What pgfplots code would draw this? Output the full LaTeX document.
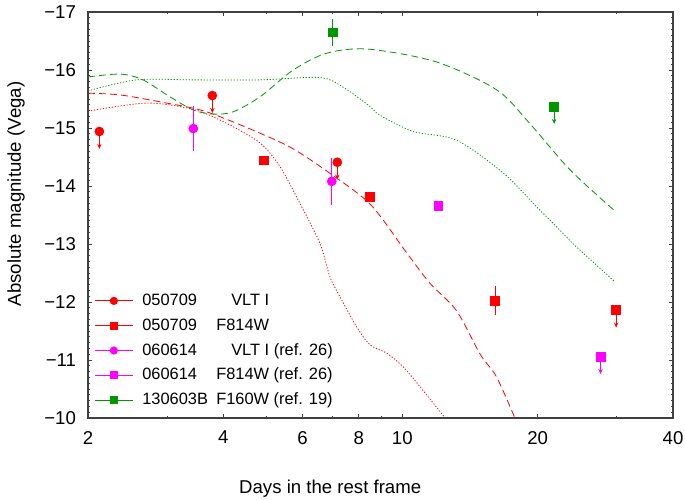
\documentclass[border=0pt]{standalone}
\usepackage{fontspec}
\setmainfont{Liberation Sans}
\usepackage{pgfplots}
\pgfplotsset{compat=1.18}
\usetikzlibrary{arrows.meta}
\definecolor{mred}{RGB}{255,0,0}
\definecolor{mmag}{RGB}{255,0,255}
\definecolor{mgreen}{RGB}{0,150,0}
\newcommand{\legtxt}[2]{\hspace*{3.5pt}\makebox[37pt][l]{#1}#2}

\begin{document}
\begin{tikzpicture}
\begin{axis}[
  scale only axis, width=292.5pt, height=203pt,
  xmode=log, xmin=2, xmax=40,
  ymin=-17, ymax=-10, y dir=reverse,
  xtick={2,4,6,8,10,20,40}, xticklabels={2,4,6,8,10,20,40},
  minor xtick={3,5,7,9,30},
  ytick={-17,-16,-15,-14,-13,-12,-11,-10},
  yticklabels={−17,−16,−15,−14,−13,−12,−11,−10},
  minor y tick num=9,
  tick align=inside,
  major tick length=2.2pt, minor tick length=1.1pt,
  axis line style={line width=0.7pt, black!75},
  every tick/.style={black!75, line width=0.5pt},
  tick label style={font=\fontsize{9.3}{10}\selectfont},
  yticklabel style={xshift=-2.5pt},
  xticklabel style={yshift=-3pt},
  label style={font=\fontsize{9.3}{10}\selectfont},
  xlabel={Days in the rest frame},
  ylabel={Absolute magnitude (Vega)},
  xlabel style={at={(axis description cs:0.414,0)}, anchor=base, yshift=-37.5pt},
  ylabel style={at={(axis description cs:-0.1149,0.552)}, anchor=base},
  error bars/error mark=none,
  unbounded coords=jump,
  legend image code/.code={
    \draw[#1, mark=none] (0pt,0pt) -- (19pt,0pt);
    \draw[#1, only marks] plot coordinates {(9.5pt,0pt)};},
  legend style={at={(axis description cs:0,0)}, anchor=south west, xshift=3pt, yshift=4pt,
    draw=none, fill=none, inner sep=0pt, row sep=2.9pt,
    font=\fontsize{8.2}{9}\selectfont,
    nodes={inner sep=1pt, text height=6pt, text depth=1.5pt}},
  legend cell align=left,
]
% models
\addplot[mred, thin, dash pattern=on 3.5pt off 2pt, smooth, forget plot] coordinates {
  (2.0,-15.60) (2.36,-15.57) (2.99,-15.43) (3.67,-15.28) (4.83,-14.91) (5.72,-14.64)
  (6.9,-14.22) (8.5,-13.68) (10.2,-12.86) (11.5,-12.33) (13.2,-11.85) (14.9,-11.1)
  (16.2,-10.71) (17.8,-10.0)};
\addplot[mred, thin, dash pattern=on 0.6pt off 0.9pt, smooth, forget plot] coordinates {
  (2.0,-15.29) (2.70,-15.43) (3.43,-15.32) (4.07,-15.08) (4.83,-14.74) (5.35,-14.33)
  (5.92,-13.70) (6.56,-13.01) (6.90,-12.44) (7.27,-12.09) (7.92,-11.57) (8.48,-11.26)
  (9.23,-11.12) (10.05,-10.88) (10.95,-10.54) (12.4,-10.02)};
\addplot[mgreen, thin, dash pattern=on 3.5pt off 2pt, smooth, forget plot] coordinates {
  (2.0,-15.88) (2.36,-15.93) (2.65,-15.83) (3.04,-15.54) (3.43,-15.31) (3.80,-15.24)
  (4.21,-15.28) (4.83,-15.54) (5.72,-16.0) (6.79,-16.29) (8.4,-16.36) (11.9,-16.14)
  (16.2,-15.66) (19.2,-15.08) (23.6,-14.28) (29.7,-13.57)};
\addplot[mgreen, thin, dash pattern=on 0.6pt off 0.9pt, smooth, forget plot] coordinates {
  (2.0,-15.64) (2.56,-15.83) (3.43,-15.83) (4.83,-15.83) (6.56,-15.87) (7.40,-15.70)
  (8.48,-15.37) (8.92,-15.22) (10.58,-14.94) (13.2,-14.79) (16.8,-14.22) (19.9,-13.64)
  (22.4,-13.24) (24.4,-12.95) (29.7,-12.35)};
% upper limits (arrows)
\addplot[mred, draw=none, forget plot, error bars/.cd, y dir=plus, y explicit,
  error bar style={draw=mred, solid, line width=0.5pt, -{Stealth[length=2.5pt,width=2.2pt]}}] coordinates {
  (2.12,-14.94) +- (0,0.3) (3.78,-15.56) +- (0,0.3) (7.17,-14.41) +- (0,0.3) (29.9,-11.86) +- (0,0.3)};
\addplot[mmag, draw=none, forget plot, error bars/.cd, y dir=plus, y explicit,
  error bar style={draw=mmag, solid, line width=0.5pt, -{Stealth[length=2.5pt,width=2.2pt]}}] coordinates {(27.6,-11.06) +- (0,0.3)};
\addplot[mgreen, draw=none, forget plot, error bars/.cd, y dir=plus, y explicit,
  error bar style={draw=mgreen, solid, line width=0.5pt, -{Stealth[length=2.5pt,width=2.2pt]}}] coordinates {(21.76,-15.37) +- (0,0.3)};
% error bars of the measured points (low end, high end)
\addplot[mred, solid, line width=0.6pt, mark=none, forget plot] coordinates {
  (16.1,-12.27) (16.1,-11.77)};
\addplot[mmag, solid, line width=0.6pt, mark=none, forget plot] coordinates {
  (3.43,-15.38) (3.43,-14.60) (6.97,nan) (6.97,-14.49) (6.97,-13.67) (12.03,nan)
  (12.03,-13.73) (12.03,-13.59)};
\addplot[mgreen, solid, line width=0.6pt, mark=none, forget plot] coordinates {
  (7.0,-16.88) (7.0,-16.42)};
% data
\addplot[mred, only marks, mark=*, mark size=2.2pt, forget plot] coordinates {
  (2.12,-14.94) (3.78,-15.56) (7.17,-14.41)};
\addplot[mred, only marks, mark=square*, mark size=2.2pt, forget plot] coordinates {
  (4.93,-14.44) (8.48,-13.81) (16.1,-12.02) (29.9,-11.86)};
\addplot[mmag, only marks, mark=*, mark size=2.2pt, forget plot] coordinates {
  (3.43,-14.99) (6.97,-14.08)};
\addplot[mmag, only marks, mark=square*, mark size=2.2pt, forget plot] coordinates {
  (12.03,-13.66) (27.6,-11.06)};
\addplot[mgreen, only marks, mark=square*, mark size=2.2pt, forget plot] coordinates {
  (7.0,-16.65) (21.76,-15.37)};
% legend
\addlegendimage{mred, draw=mred, mark=*, mark size=1.8pt, line width=0.45pt}
\addlegendentry{\legtxt{050709}{\hspace{7.5pt}VLT I}}
\addlegendimage{mred, draw=mred, mark=square*, mark size=1.7pt, line width=0.45pt}
\addlegendentry{\legtxt{050709}{F814W}}
\addlegendimage{mmag, draw=mmag, mark=*, mark size=1.8pt, line width=0.45pt}
\addlegendentry{\legtxt{060614}{\hspace{7.5pt}VLT I (ref. 26)}}
\addlegendimage{mmag, draw=mmag, mark=square*, mark size=1.7pt, line width=0.45pt}
\addlegendentry{\legtxt{060614}{F814W (ref. 26)}}
\addlegendimage{mgreen, draw=mgreen, mark=square*, mark size=1.7pt, line width=0.45pt}
\addlegendentry{\legtxt{130603B}{F160W (ref. 19)}}
\end{axis}
\pgfresetboundingbox
\useasboundingbox (-44pt,-40.5pt) rectangle (298.5pt,209pt);
\end{tikzpicture}
\end{document}
